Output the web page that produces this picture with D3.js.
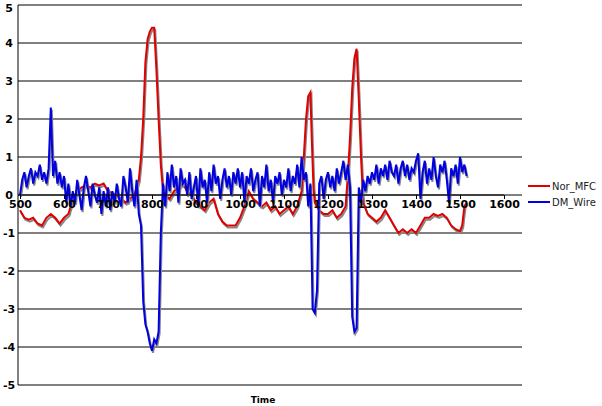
<!DOCTYPE html>
<html><head><meta charset="utf-8">
<script src="https://cdn.jsdelivr.net/npm/d3@7"></script>
<style>body{margin:0;background:#fff}</style>
</head><body>
<div class="main"></div>
<script>
////Data
const yTicks = [-5,-4,-3,-2,-1,0,1,2,3,4,5];
const xTicks = [500,600,700,800,900,1000,1100,1200,1300,1400,1500,1600];
const seriesNames = ['Nor_MFC','DM_Wire'];
const seriesColors = ['#e00000','#0000e0'];

const morX = [500,510,520,530,540,550,560,570,580,590,600,610,620,630,640,650,660,670,680,690,700,710,720,730,740,750,760,770,775,780,785,790,795,800,805,810,815,820,825,830,840,850,860,870,880,890,900,910,920,930,940,950,960,970,980,990,1000,1010,1020,1030,1040,1050,1060,1070,1080,1090,1100,1110,1120,1130,1140,1145,1150,1155,1160,1163,1167,1170,1180,1190,1200,1210,1220,1230,1240,1245,1250,1255,1260,1265,1270,1275,1280,1290,1300,1310,1320,1330,1340,1350,1360,1370,1380,1390,1400,1410,1420,1430,1440,1450,1460,1470,1480,1490,1500,1505,1510,1515];
const morY = [-0.4,-0.6,-0.65,-0.6,-0.75,-0.8,-0.6,-0.5,-0.6,-0.75,-0.6,-0.5,-0.1,0.1,0.2,0.25,0.2,0.3,0.25,0.3,0.1,0.05,0,-0.1,-0.2,-0.1,0,0.4,1.0,2.0,3.5,4.1,4.3,4.4,4.4,3.3,2.0,0.8,0.1,0,-0.1,0.1,0.2,0.3,0.1,0,-0.2,-0.3,-0.4,-0.2,-0.1,-0.5,-0.7,-0.8,-0.8,-0.8,-0.6,-0.3,0.1,-0.1,-0.2,-0.3,-0.2,-0.4,-0.3,-0.5,-0.4,-0.3,-0.5,-0.3,0.1,1.0,2.0,2.6,2.7,1.5,0.2,-0.2,-0.4,-0.5,-0.5,-0.4,-0.6,-0.5,-0.3,0.5,1.5,2.8,3.6,3.85,2.5,1.0,-0.2,-0.5,-0.6,-0.7,-0.6,-0.4,-0.6,-0.8,-1.0,-0.9,-1.0,-0.9,-1.0,-0.8,-0.6,-0.6,-0.5,-0.55,-0.5,-0.6,-0.8,-0.9,-0.95,-0.8,-0.3,-0.2];

const dmStart = 500, dmStep = 5;
const dmY = [
  0.0,0.4,0.6,0.2,0.5,0.7,0.3,0.6,0.5,0.8,0.4,0.6,0.3,0.7,2.3,0.5,0.9,0.3,0.6,0.2,
  0.5,-0.2,0.3,-0.3,0.1,-0.2,0.4,0.0,-0.4,0.2,0.5,0.1,-0.3,0.3,0.0,-0.2,0.2,-0.5,0.1,-0.3,
  0.2,-0.4,0.1,-0.2,0.3,-0.1,-0.3,0.5,0.2,-0.2,0.7,0.1,-0.3,0.4,-0.5,-0.8,-2.8,-3.4,-3.6,-3.9,
  -4.1,-3.8,-3.9,-3.6,-1.0,0.3,-0.3,0.6,0.1,0.8,0.2,0.5,-0.2,0.7,0.3,0.4,0.0,0.6,-0.1,0.2,
  0.5,-0.3,0.7,0.2,0.4,-0.2,0.6,0.1,0.8,0.3,0.5,-0.1,0.4,0.7,0.2,0.5,0.0,0.6,0.3,0.7,
  0.2,0.6,-0.2,0.5,0.3,0.7,0.1,0.4,0.6,-0.3,0.5,0.2,0.8,0.1,0.4,-0.2,0.5,0.3,0.6,0.0,
  0.4,0.2,0.7,0.1,0.5,0.3,0.8,0.2,1.0,0.4,0.6,-0.3,0.3,-3.0,-3.1,-2.5,0.3,0.5,-0.1,0.4,
  0.6,0.2,0.5,0.1,0.7,0.3,0.6,0.9,0.4,0.8,0.2,-3.2,-3.6,-3.5,0.2,-0.2,0.4,0.1,0.5,0.3,
  0.6,0.4,0.8,0.3,0.7,0.5,0.8,0.4,0.9,0.6,0.5,0.8,0.3,0.7,0.9,0.5,0.8,0.4,0.7,0.6,
  0.9,1.1,-0.1,0.6,0.9,0.3,0.7,0.4,1.0,0.5,0.2,0.8,0.6,0.9,0.4,-0.2,0.7,0.5,0.8,0.3,
  1.0,0.6,0.8,0.5
];

////Layout
const width = 602, height = 406;
const svg = d3.select('.main').append('svg').attr('width', width).attr('height', height)
  .style('font-family', 'Verdana, "DejaVu Sans", sans-serif');

const xScale = d3.scaleLinear().domain([500, 1600]).range([20, 504]);
const yScale = d3.scaleLinear().domain([-5, 5]).range([385, 5]);

////Grid
svg.append('g').selectAll('line').data(yTicks).enter().append('line')
  .attr('x1', 18).attr('x2', 522)
  .attr('y1', d => yScale(d)).attr('y2', d => yScale(d))
  .attr('stroke', '#000').attr('stroke-width', 1);

svg.append('line').attr('x1', 18).attr('x2', 18).attr('y1', yScale(5)).attr('y2', yScale(-5))
  .attr('stroke', '#000');

svg.append('g').selectAll('text').data(yTicks).enter().append('text')
  .attr('x', 9).attr('y', d => Math.max(12, yScale(d) + 4))
  .attr('text-anchor', 'middle').attr('font-size', 11).attr('font-weight', 'bold')
  .text(d => d);

////Lines
const data = [
  morX.map((x, i) => [x, morY[i]]),
  dmY.map((v, i) => [dmStart + i * dmStep, v])
];
const line = d3.line().x(d => xScale(d[0])).y(d => yScale(d[1]));

data.forEach((s, i) => {
  svg.append('path').datum(s).attr('d', line).attr('fill', 'none')
    .attr('stroke', '#888').attr('stroke-width', 2).attr('transform', 'translate(1,2)');
  svg.append('path').datum(s).attr('d', line).attr('fill', 'none')
    .attr('stroke', seriesColors[i]).attr('stroke-width', 2);
});

////X axis at zero
const xAxis = d3.axisBottom(xScale).tickValues(xTicks).tickSize(4).tickFormat(d3.format('d'));
const gx = svg.append('g').attr('transform', `translate(0, ${yScale(0)})`).call(xAxis);
gx.select('.domain').attr('stroke', '#000').attr('d', `M18,0H504`);
gx.selectAll('.tick line').attr('stroke', '#000');
gx.selectAll('text').attr('font-size', 11).attr('font-weight', 'bold')
  .attr('font-family', 'Verdana, "DejaVu Sans", sans-serif').attr('fill', '#000').attr('dy', '0.5em');

svg.append('text').attr('x', 263).attr('y', 403).attr('text-anchor', 'middle')
  .attr('font-size', 9).attr('font-weight', 'bold').text('Time');

////Legend
const lg = svg.append('g').selectAll('g').data(seriesNames).enter().append('g')
  .attr('transform', (d, i) => `translate(528, ${186 + i * 16})`);
lg.append('line').attr('x1', 0).attr('x2', 22).attr('stroke', (d, i) => seriesColors[i]).attr('stroke-width', 2);
lg.append('text').attr('x', 24).attr('y', 4).attr('font-size', 10).attr('fill', '#222').text(d => d);
</script>
</body></html>
